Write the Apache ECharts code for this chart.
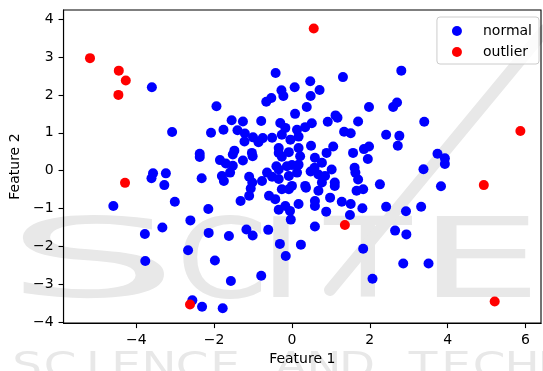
<!DOCTYPE html>
<html style="height: 100%">

<head>
    <meta charset="utf-8">
</head>

<body style="height: 100%; margin: 0; background: #fff">
    <div id="container" style="width: 543px; height: 371px"></div>
    <script type="text/javascript" src="https://cdn.jsdelivr.net/npm/echarts@6/dist/echarts.min.js"></script>
    <script type="text/javascript">
        // points, [feature 1, feature 2]
        var normalPoints = [
            [-3.60, 2.20], [-3.08, 1.02], [-2.37, 0.45], [-2.37, 0.36], [-2.32, -0.20], [-3.57, -0.07], [-3.61, -0.20], [-3.24, -0.07], [-3.28, -0.38], [-4.59, -0.93],
            [-3.01, -0.82], [-3.33, -1.50], [-2.61, -1.31], [-3.78, -1.67], [-2.67, -2.10], [-3.77, -2.38], [-2.56, -3.42], [-2.31, -3.59], [-2.15, -1.01], [-2.14, -1.64],
            [-1.62, -1.72], [-1.17, -1.55], [-1.01, -1.71], [-0.61, -1.56], [-0.31, -1.93], [-0.16, -2.25], [0.23, -1.95], [0.59, -1.47], [1.83, -2.06], [2.07, -2.85],
            [-1.98, -2.37], [-0.79, -2.77], [-1.57, -2.91], [-1.78, -3.63], [-1.32, -0.80], [-1.10, -0.66], [-0.59, -0.66], [-0.43, -0.75], [-0.34, -1.03], [-0.03, -1.29],
            [-0.05, -1.06], [0.17, -0.88], [0.36, -0.45], [0.59, -0.80], [0.59, -0.93], [0.68, -0.53], [0.98, -0.71], [0.88, -1.08], [1.10, -0.40], [1.28, -0.82],
            [1.51, -0.88], [1.49, -1.17], [1.81, -0.99], [1.66, -0.53], [1.83, -0.49], [-0.26, -0.49], [-0.08, -0.49], [-0.17, -0.93], [-1.06, -0.47],
            [-0.42, 2.58], [0.47, 2.36], [1.31, 2.47], [0.07, 2.20], [-0.27, 2.12], [-0.22, 1.97], [0.71, 2.13], [0.48, 1.97], [-0.53, 1.92], [-0.66, 1.82],
            [-1.94, 1.70], [0.38, 1.68], [1.98, 1.68], [0.08, 1.50], [-1.55, 1.33], [-0.79, 1.31], [-1.26, 1.30], [-0.30, 1.26], [0.92, 1.29], [1.12, 1.46],
            [1.17, 1.40], [1.70, 1.30], [0.51, 1.25], [0.34, 1.15], [0.13, 1.08], [-0.17, 1.13], [-1.40, 1.07], [-1.76, 1.08], [-2.08, 1.00], [-1.21, 0.98],
            [-1.00, 0.88], [-0.75, 0.86], [-0.51, 0.87], [-0.26, 0.95], [-0.04, 0.82], [0.17, 0.90], [1.34, 1.03], [1.51, 0.99], [-1.22, 0.77], [-0.86, 0.75],
            [0.49, 0.66], [-1.48, 0.53], [-1.52, 0.43], [-1.03, 0.47], [-1.01, 0.38], [-0.34, 0.60], [-0.34, 0.47], [-0.08, 0.49], [0.17, 0.60], [1.06, 0.64],
            [0.89, 0.47], [0.59, 0.34], [0.77, 0.21], [1.57, 0.47], [1.85, 0.57], [1.98, 0.64], [1.95, 0.31], [-1.85, 0.28], [-1.70, 0.19], [-1.52, 0.13],
            [-1.26, 0.27], [-1.59, -0.05], [-1.80, -0.14], [-1.75, -0.27], [-1.10, -0.16], [-0.64, -0.05], [-0.40, 0.12], [-0.26, 0.37], [0.00, 0.15], [0.17, 0.16],
            [0.21, 0.38], [0.58, 0.08], [0.48, -0.02], [1.02, 0.03], [0.68, -0.10], [0.85, -0.14], [1.61, 0.08], [1.63, -0.05], [1.70, -0.23], [-0.34, 0.03],
            [-0.08, -0.14], [-0.34, -0.22], [-0.51, -0.16], [-1.02, -0.31], [-0.77, -0.27], [0.34, -0.40], [1.10, -0.31], [0.00, -0.40], [0.77, -0.31], [0.13, -0.05],
            [-0.13, 0.12], [2.81, 2.64], [2.70, 1.80], [2.60, 1.68], [3.40, 1.29], [2.42, 0.95], [2.76, 0.92], [2.72, 0.66], [3.74, 0.45], [3.93, 0.33],
            [3.93, 0.18], [3.38, 0.04], [3.83, -0.41], [2.26, -0.36], [2.42, -0.95], [2.93, -1.07], [3.32, -0.95], [2.65, -1.58], [2.94, -1.68], [2.86, -2.45],
            [3.51, -2.45]
        ];
        var outlierPoints = [
            [-5.19, 2.97], [-4.45, 2.64], [-4.27, 2.38], [-4.46, 2.00], [-4.29, -0.32], [0.56, 3.75],
            [5.87, 1.05], [4.93, -0.38], [5.21, -3.45], [1.36, -1.43], [-2.62, -3.53]
        ];
        var xTicks = [-4, -2, 0, 2, 4, 6];
        var yTicks = [-4, -3, -2, -1, 0, 1, 2, 3, 4];

        var fontFamily = 'DejaVu Sans';
        var markColor = '#e8e8e8';   // faint publisher watermark behind the plot

        function tickText(v) {
            return v < 0 ? '\u2212' + Math.abs(v) : String(v);
        }

        // watermark: big spaced letters + a diagonal stroke + a line of small caps at the bottom
        var watermark = [];
        [['S', 92, 2.5], ['C', 222, 1.2], ['I', 281, 1.4], ['T', 368, 1.3], ['E', 480, 1.8]].forEach(function (l) {
            watermark.push({
                type: 'text', silent: true, z: -10,
                x: l[1], y: 268, scaleX: l[2],
                style: { text: l[0], fill: markColor, font: '110px "DejaVu Sans"', align: 'center', verticalAlign: 'middle' }
            });
        });
        watermark.push({
            type: 'line', silent: true, z: -10,
            shape: { x1: 545, y1: 30, x2: 330, y2: 290 },
            style: { stroke: markColor, lineWidth: 12, lineCap: 'round' }
        });
        'SCIENCE AND TECHNOLOGY'.split('').forEach(function (ch, i) {
            if (ch === ' ') return;
            watermark.push({
                type: 'text', silent: true, z: -10,
                x: 27 + i * 33, y: 368, scaleX: 1.3,
                style: { text: ch, fill: markColor, font: '36px "DejaVu Sans"', align: 'center', verticalAlign: 'middle' }
            });
        });

        var dom = document.getElementById("container");
        var myChart = echarts.init(dom, null, { renderer: 'canvas' });

        var option = {
            animation: false,
            backgroundColor: '#fff',
            textStyle: { fontFamily: fontFamily },
            graphic: watermark,
            grid: {
                left: 60, right: 2, top: 10, bottom: 46,
                show: true, borderColor: '#000', borderWidth: 1.1,
                backgroundColor: 'transparent'
            },
            legend: {
                orient: 'vertical',
                right: 4, top: 17,
                padding: [7, 7, 5, 15],
                itemWidth: 10, itemHeight: 10, itemGap: 7,
                icon: 'circle',
                backgroundColor: 'rgba(255,255,255,0.8)',
                borderColor: '#cccccc', borderWidth: 1, borderRadius: 3,
                textStyle: { fontFamily: fontFamily, fontSize: 14, color: '#000', lineHeight: 14, padding: [0, 0, 0, 16] },
                data: ['normal', 'outlier']
            },
            xAxis: {
                type: 'value',
                min: -5.87, max: 6.40,
                name: 'Feature 1',
                nameLocation: 'middle',
                nameGap: 27,
                nameTextStyle: { fontFamily: fontFamily, fontSize: 14, color: '#000' },
                axisLine: { show: true, onZero: false, lineStyle: { color: '#000', width: 1.1 } },
                axisTick: { show: true, length: 5, customValues: xTicks, lineStyle: { color: '#000', width: 1.1 } },
                axisLabel: { margin: 10, customValues: xTicks, formatter: tickText, fontFamily: fontFamily, fontSize: 14, color: '#000' },
                splitLine: { show: false }
            },
            yAxis: {
                type: 'value',
                min: -4.02, max: 4.24,
                name: 'Feature 2',
                nameLocation: 'middle',
                nameRotate: 90,
                nameGap: 38,
                nameTextStyle: { fontFamily: fontFamily, fontSize: 14, color: '#000' },
                axisLine: { show: true, onZero: false, lineStyle: { color: '#000', width: 1.1 } },
                axisTick: { show: true, length: 5, customValues: yTicks, lineStyle: { color: '#000', width: 1.1 } },
                axisLabel: { margin: 10, customValues: yTicks, formatter: tickText, fontFamily: fontFamily, fontSize: 14, color: '#000' },
                splitLine: { show: false }
            },
            series: [
                {
                    name: 'normal',
                    type: 'scatter',
                    symbol: 'circle',
                    symbolSize: 10,
                    itemStyle: { color: '#0000ff', opacity: 1 },
                    data: normalPoints
                },
                {
                    name: 'outlier',
                    type: 'scatter',
                    symbol: 'circle',
                    symbolSize: 10,
                    itemStyle: { color: '#ff0000', opacity: 1 },
                    data: outlierPoints
                }
            ]
        };

        myChart.setOption(option);
    </script>
</body>

</html>
